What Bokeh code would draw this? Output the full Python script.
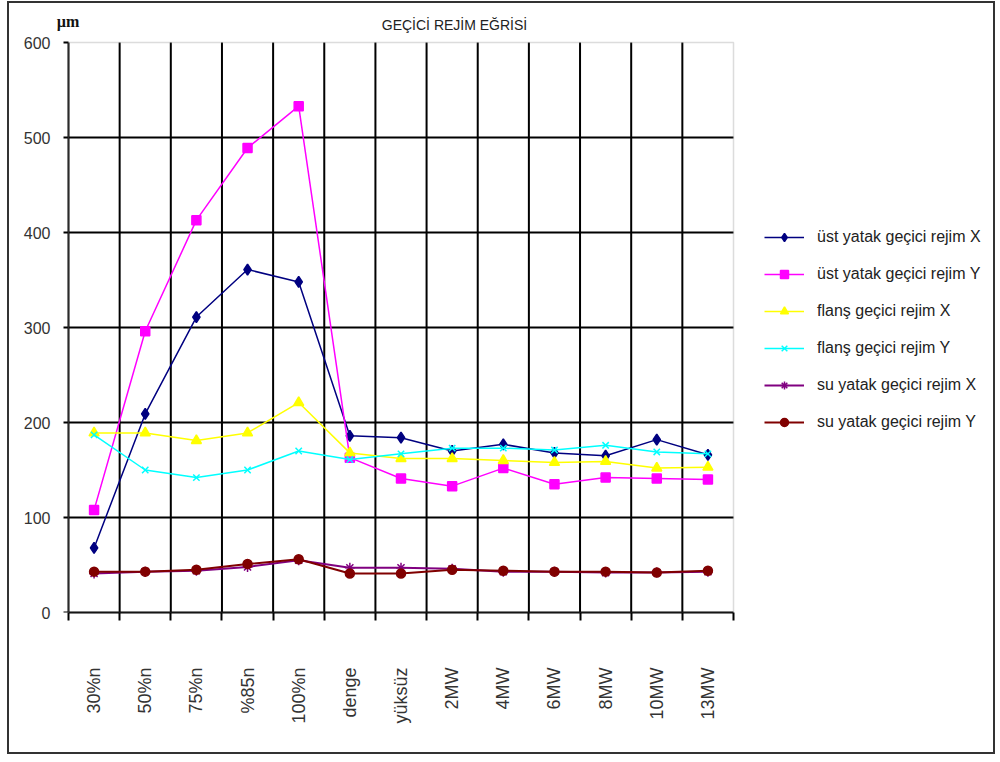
from math import pi

from bokeh.plotting import figure
from bokeh.models import (Range1d, LinearAxis, FixedTicker, Grid, Legend,
                          LegendItem, Label, BoxAnnotation)
from bokeh.embed import file_html
from bokeh.resources import INLINE

# ---- data -------------------------------------------------------------
categories = ["30%n", "50%n", "75%n", "%85n", "100%n", "denge", "yüksüz",
              "2MW", "4MW", "6MW", "8MW", "10MW", "13MW"]
y_ticks = [0, 100, 200, 300, 400, 500, 600]

ust_yatak_x = [68, 209, 311, 361, 348, 186, 184, 170, 177, 168, 165, 182, 166]
ust_yatak_y = [108, 296, 413, 489, 533, 163, 141, 133, 152, 135, 142, 141, 140]
flans_x = [189, 189, 181, 189, 221, 168, 162, 162, 160, 158, 159, 152, 153]
flans_y = [187, 150, 142, 150, 170, 161, 167, 173, 173, 171, 176, 169, 167]
su_yatak_x = [41, 43, 44, 48, 55, 47, 47, 46, 43, 43, 42, 42, 43]
su_yatak_y = [43, 43, 45, 51, 56, 41, 41, 45, 44, 43, 43, 42, 44]

series_names = ["üst yatak geçici rejim X", "üst yatak geçici rejim Y",
                "flanş geçici rejim X", "flanş geçici rejim Y",
                "su yatak geçici rejim X", "su yatak geçici rejim Y"]
series_values = [ust_yatak_x, ust_yatak_y, flans_x, flans_y,
                 su_yatak_x, su_yatak_y]
series_colors = ["#000080", "#FF00FF", "#FFFF00", "#00FFFF",
                 "#800080", "#800000"]
series_markers = ["diamond", "square", "triangle", "x", "asterisk", "circle"]
marker_sizes = [11, 9, 10, 9, 10, 9]

FONT = "Liberation Sans"

# categories sit in the middle of each slot; slot edges carry the grid
n = len(categories)
x_pos = [i + 0.5 for i in range(n)]
edge_ticks = list(range(n + 1))
y_max = y_ticks[-1]

# ---- layout (pixels) --------------------------------------------------
W, H = 988, 753                 # canvas inside the outer border
FRAME_L = 46                    # drawing region starts here
PLOT_L, PLOT_R = 59, 724        # plot area, canvas pixels
PLOT_T, PLOT_B = 39, 609
px_per_slot = (PLOT_R - PLOT_L) / n
x_start = -(PLOT_L - FRAME_L) / px_per_slot
x_end = (W - PLOT_L) / px_per_slot
y_end = y_max * PLOT_B / (PLOT_B - PLOT_T)

p = figure(width=W, height=H,
           x_range=Range1d(x_start, x_end), y_range=Range1d(0, y_end),
           output_backend="svg", toolbar_location=None,
           x_axis_location=None, y_axis_location=None,
           min_border_left=FRAME_L, min_border_right=0,
           min_border_top=0, min_border_bottom=H - PLOT_B,
           background_fill_color="white", border_fill_color="white",
           outline_line_color=None)
p.center = [r for r in p.center if not isinstance(r, Grid)]
p.styles = {"margin-left": "7px", "margin-top": "1px",
            "border": "2px solid #333333"}

# x axis: tick marks on the slot edges, category names in the slots
edge_axis = LinearAxis(ticker=FixedTicker(ticks=edge_ticks, minor_ticks=[]),
                       bounds=(0, n),
                       major_label_overrides={t: "" for t in edge_ticks},
                       major_label_text_font_size="0px",
                       major_label_standoff=0,
                       major_tick_out=8, major_tick_in=0,
                       major_tick_line_width=2, major_tick_line_color="black",
                       minor_tick_line_color=None,
                       axis_line_width=2, axis_line_color="black")
p.add_layout(edge_axis, "below")

label_axis = LinearAxis(ticker=FixedTicker(ticks=x_pos, minor_ticks=[]),
                        major_label_overrides=dict(zip(x_pos, categories)),
                        major_label_orientation=pi / 2,
                        major_tick_line_color=None, major_tick_out=0,
                        minor_tick_line_color=None,
                        axis_line_color=None,
                        major_label_standoff=47,
                        major_label_text_font=FONT,
                        major_label_text_font_size="18px",
                        major_label_text_color="#333333")
p.add_layout(label_axis, "below")

# y axis: numbers at the panel edge, line and ticks at x = 0
y_label_axis = LinearAxis(ticker=FixedTicker(ticks=y_ticks, minor_ticks=[]),
                          axis_line_color=None,
                          major_tick_line_color=None, major_tick_out=0,
                          major_tick_in=0, minor_tick_line_color=None,
                          major_label_standoff=5,
                          major_label_text_font=FONT,
                          major_label_text_font_size="16px",
                          major_label_text_color="#333333")
p.add_layout(y_label_axis, "left")

y_line_axis = LinearAxis(ticker=FixedTicker(ticks=y_ticks, minor_ticks=[]),
                         bounds=(0, y_max), fixed_location=0,
                         major_label_overrides={t: "" for t in y_ticks},
                         major_label_text_font_size="0px",
                         major_label_standoff=0,
                         major_tick_out=5, major_tick_in=0,
                         major_tick_line_width=2,
                         major_tick_line_color="black",
                         minor_tick_line_color=None,
                         axis_line_width=2, axis_line_color="black")
p.add_layout(y_line_axis, "left")

# grid lines, limited to the plot area
inner_edges = edge_ticks[1:-1]
inner_y = y_ticks[1:-1]
p.segment(x0=inner_edges, x1=inner_edges, y0=0, y1=y_max,
          line_color="black", line_width=2)
p.segment(x0=0, x1=n, y0=inner_y, y1=inner_y,
          line_color="black", line_width=2)
p.add_layout(BoxAnnotation(left=0, right=n, bottom=0, top=y_max,
                           fill_alpha=0, line_color="#8a8a8a",
                           line_width=1.5))

# ---- series -----------------------------------------------------------
items = []
for name, vals, color, marker, size in zip(series_names, series_values,
                                            series_colors, series_markers,
                                            marker_sizes):
    lw = 2 if name.startswith("su") else 1.5
    ln = p.line(x_pos, vals, line_color=color, line_width=lw)
    sc = p.scatter(x_pos, vals, marker=marker, size=size,
                   fill_color=color, line_color=color, line_width=1.5)
    items.append(LegendItem(label=name, renderers=[ln, sc]))

legend = Legend(items=items, location=(709, 180),
                border_line_color=None, background_fill_alpha=0,
                label_text_font=FONT, label_text_font_size="16px",
                label_text_color="#222222",
                glyph_width=40, glyph_height=20, label_height=20,
                spacing=17, label_standoff=13, padding=10, margin=0)
p.add_layout(legend)

# ---- titles -----------------------------------------------------------
p.add_layout(Label(x=443, y=19, x_units="canvas", y_units="canvas",
                   text="GEÇİCİ REJİM EĞRİSİ", text_align="center",
                   text_baseline="middle", text_font=FONT,
                   text_font_size="14px", text_color="#222222"))
p.add_layout(Label(x=56.5, y=16, x_units="canvas", y_units="canvas",
                   text="µm", text_align="center", text_baseline="middle",
                   text_font="Liberation Serif", text_font_style="bold",
                   text_font_size="16px", text_color="#111111"))

open("out.html", "w").write(file_html(p, INLINE))
